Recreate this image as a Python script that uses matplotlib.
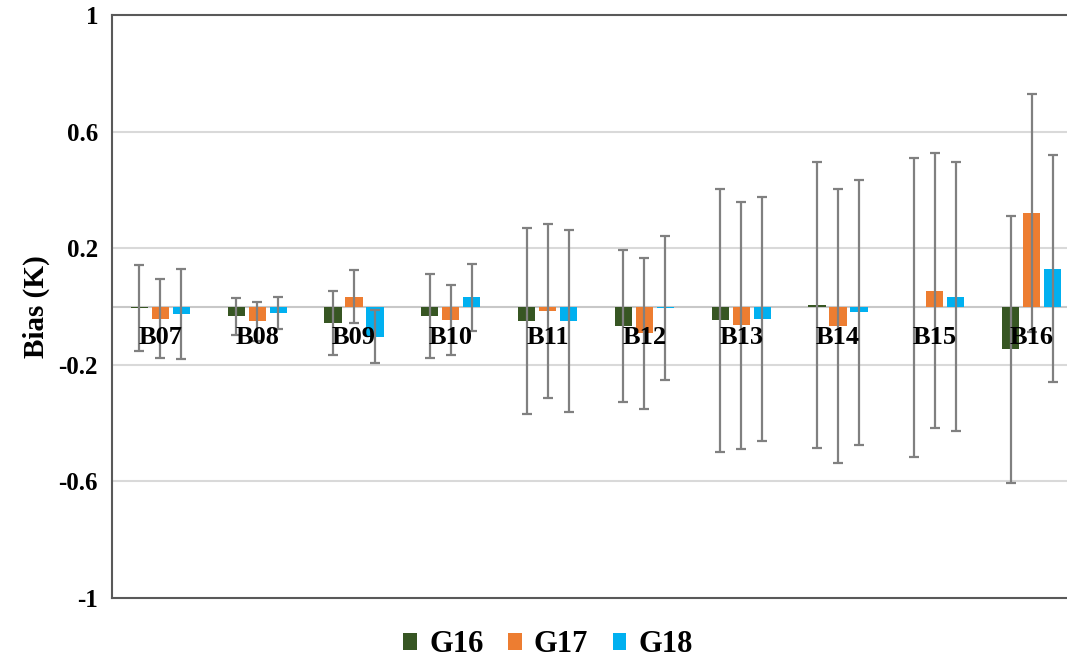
import matplotlib
matplotlib.use("Agg")
import matplotlib.pyplot as plt
import numpy as np
from matplotlib.patches import Patch

bands = ["B07", "B08", "B09", "B10", "B11", "B12", "B13", "B14", "B15", "B16"]
series = ["G16", "G17", "G18"]
g16 = [-0.004, -0.034, -0.058, -0.033, -0.049, -0.066, -0.048, 0.005, -0.003, -0.147]
g17 = [-0.042, -0.050, 0.034, -0.046, -0.016, -0.092, -0.065, -0.068, 0.054, 0.320]
g18 = [-0.026, -0.022, -0.103, 0.031, -0.049, -0.004, -0.042, -0.020, 0.034, 0.130]
g16_err = [0.148, 0.063, 0.110, 0.143, 0.320, 0.260, 0.450, 0.490, 0.513, 0.458]
g17_err = [0.136, 0.067, 0.091, 0.121, 0.299, 0.258, 0.425, 0.470, 0.471, 0.408]
g18_err = [0.154, 0.054, 0.090, 0.115, 0.312, 0.247, 0.419, 0.454, 0.460, 0.390]
yticks = [-1, -0.6, -0.2, 0.2, 0.6, 1]
ytick_labels = ["-1", "-0.6", "-0.2", "0.2", "0.6", "1"]
colors = ["#375623", "#ED7D31", "#00B0F0"]

W, H = 1067, 661
fig = plt.figure(figsize=(W / 100, H / 100), dpi=100)
ax = fig.add_axes([112 / W, 1 - 598 / H, (1080 - 112) / W, (598 - 15) / H])

serif = ["Liberation Serif", "DejaVu Serif"]
x = np.arange(len(bands))
width = 0.176
offset = 0.217
vals = [g16, g17, g18]
errs = [g16_err, g17_err, g18_err]
for k, (v, e, c) in enumerate(zip(vals, errs, colors)):
    pos = x + (k - 1) * offset
    ax.bar(pos, v, width=width, color=c, zorder=3)
    ax.errorbar(pos, v, yerr=e, fmt="none", ecolor="#808080", elinewidth=1.6,
                capsize=3.8, capthick=1.6, zorder=4)

ax.set_xlim(-0.5, len(bands) - 0.5)
ax.set_ylim(-1, 1)
ax.set_yticks(yticks)
ax.set_yticklabels(ytick_labels, fontfamily=serif, fontweight="bold", fontsize=18)
ax.set_xticks([])
ax.tick_params(axis="y", length=0, pad=10)
for t in [-0.6, -0.2, 0.2, 0.6]:
    ax.axhline(t, color="#D9D9D9", linewidth=1.5, zorder=1)
ax.axhline(0, color="#C8C8C8", linewidth=1.5, zorder=2)
for s in ax.spines.values():
    s.set_color("#595959")
    s.set_linewidth(1.5)

for i, b in enumerate(bands):
    ax.text(i, -0.108, b, ha="center", va="center", fontsize=19,
            fontfamily=serif, fontweight="bold", zorder=5)

ax.set_ylabel("Bias (K)", fontfamily=serif, fontweight="bold", fontsize=21, labelpad=6)

handles = [Patch(facecolor=c, label=s) for s, c in zip(series, colors)]
fig.legend(handles=handles, loc="center", bbox_to_anchor=(548 / W, 1 - 645 / H),
           ncol=3, frameon=False, prop={"family": serif, "weight": "bold", "size": 22},
           handlelength=0.45, handleheight=0.45, handletextpad=0.4, columnspacing=0.8)

fig.savefig("out.png", dpi=100)
